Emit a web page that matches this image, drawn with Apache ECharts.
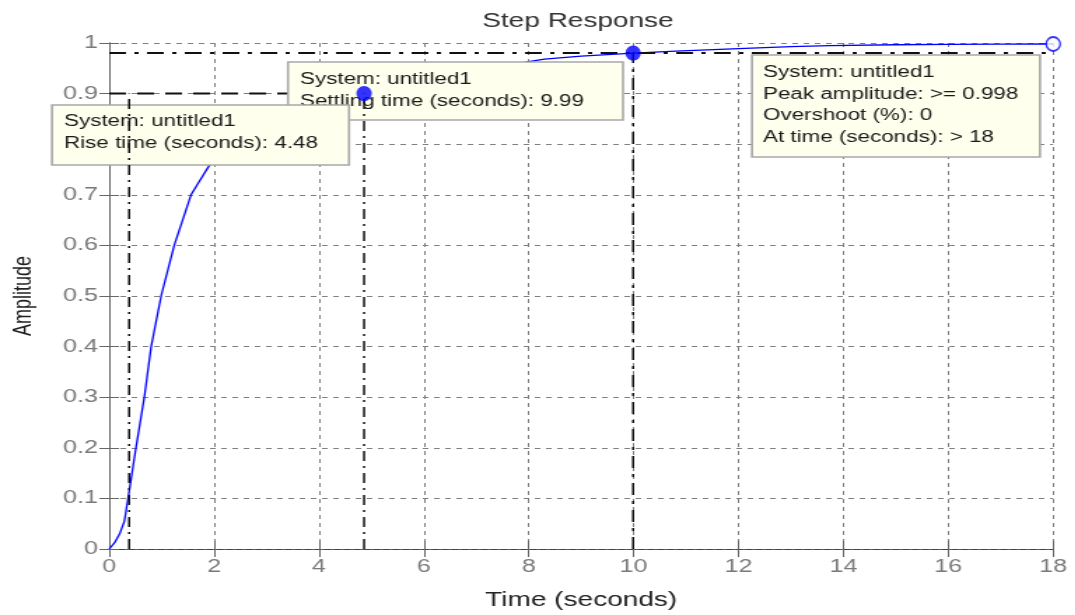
<!DOCTYPE html>
<html><head><meta charset="utf-8">
<script src="https://cdn.jsdelivr.net/npm/echarts@6/dist/echarts.min.js"></script>
<style>
html,body{margin:0;padding:0;background:#fff;overflow:hidden}
#wrap{width:1075px;height:615px;overflow:hidden;position:relative;background:#fff}
#chart{position:absolute;left:0;top:0;height:615px;transform-origin:0 0}
</style></head>
<body><div id="wrap"><div id="chart"></div></div>
<script>
// ---- data ----
const timeValues = [0, 0.1, 0.2, 0.29, 0.36, 0.51, 0.67, 0.8, 0.99, 1.24, 1.56, 1.98, 2.5, 3, 3.5, 4, 4.5, 4.86, 5.5, 6, 7, 8, 8.3, 9, 10, 10.8, 12, 13, 13.75, 15, 16, 17, 18];
const amplitudeValues = [0, 0.012, 0.03, 0.055, 0.1, 0.2, 0.3, 0.4, 0.5, 0.6, 0.7, 0.77, 0.81, 0.84, 0.86, 0.875, 0.89, 0.9, 0.913, 0.924, 0.945, 0.963, 0.968, 0.974, 0.98, 0.984, 0.989, 0.993, 0.995, 0.9965, 0.9972, 0.9977, 0.998];
const riseLevels = [0.1, 0.9];          // amplitude levels for rise time
const riseTimes = [0.38, 4.86];         // times at 10% and 90%
const settleTime = [9.99];
const settleLevel = [0.98];
const peakPoint = [18, 0.998];
const xTickLabels = ['0','2','4','6','8','10','12','14','16','18'];
const yTickLabels = ['0','0.1','0.2','0.3','0.4','0.5','0.6','0.7','0.8','0.9','1'];
const titleText = 'Step Response';
const xName = 'Time (seconds)';
const yName = 'Amplitude';
const riseBoxText = ['System: untitled1', 'Rise time (seconds): 4.48'];
const settleBoxText = ['System: untitled1', 'Settling time (seconds): 9.99'];
const peakBoxText = ['System: untitled1', 'Peak amplitude: >= 0.998', 'Overshoot (%): 0', 'At time (seconds): > 18'];

// ---- layout ----
const SX = 1.4; // the reference picture is horizontally stretched
const el = document.getElementById('chart');
el.style.width = (1075 / SX) + 'px';
el.style.transform = 'scaleX(' + SX + ')';
const px = v => v / SX;
const FONT = '"Liberation Sans", Arial, sans-serif';

const curve = timeValues.map((t, i) => [t, amplitudeValues[i]]);

function box(x, y, w, h, lines, tx, ty, z) {
  return {
    type: 'group', z: z,
    children: [
      { type: 'rect', z: z, shape: { x: px(x), y: y, width: px(w), height: h },
        style: { fill: '#ffffee', stroke: '#a8a8a8', lineWidth: 1.6 } },
      { type: 'text', z: z, style: { x: px(tx), y: ty, text: lines.join('\n'), font: '16px ' + FONT,
        fill: '#1a1a1a', lineHeight: 21.5, verticalAlign: 'top' } }
    ]
  };
}

const blackDashDot = [10, 5, 2, 5];
const chart = echarts.init(el, null, { renderer: 'canvas' });
const gridLine = { show: true, lineStyle: { color: '#808080', type: [4, 4], width: 1 } };
chart.setOption({
  animation: false,
  backgroundColor: '#fff',
  title: { text: titleText, left: px(578), top: 11, textAlign: 'center', padding: 0,
    textStyle: { fontFamily: FONT, fontSize: 20, fontWeight: 'normal', color: '#333' } },
  grid: { left: px(108), right: px(22), top: 43, bottom: 60, containLabel: false },
  xAxis: [
    { type: 'value', min: 0, max: 18, interval: 2, position: 'bottom',
      name: xName, nameLocation: 'middle', nameGap: 41,
      nameTextStyle: { fontFamily: FONT, fontSize: 20, color: '#222' },
      axisLine: { show: true, lineStyle: { color: '#666', width: 1 } },
      axisTick: { show: true, inside: true, length: 8, lineStyle: { color: '#666' } },
      axisLabel: { margin: 9, fontFamily: FONT, fontSize: 18, color: '#7a7a7a',
        formatter: (v, i) => xTickLabels[i] },
      splitLine: gridLine },
    { type: 'value', min: 0, max: 18, interval: 2, position: 'top',
      axisLine: { show: true, lineStyle: { color: '#444', width: 1, type: [4, 3] } },
      axisTick: { show: true, inside: true, length: 8, lineStyle: { color: '#666' } },
      axisLabel: { show: false }, splitLine: { show: false } }
  ],
  yAxis: [
    { type: 'value', min: 0, max: 1, interval: 0.1, position: 'left',
      name: yName, nameLocation: 'middle', nameGap: 52, nameRotate: 90,
      nameTextStyle: { fontFamily: FONT, fontSize: 18, color: '#222' },
      axisLine: { show: true, lineStyle: { color: '#666', width: 1 } },
      axisTick: { show: true, inside: true, length: 7, lineStyle: { color: '#666' } },
      axisLabel: { margin: 8, fontFamily: FONT, fontSize: 18, color: '#7a7a7a',
        formatter: (v, i) => yTickLabels[i] },
      splitLine: gridLine },
    { type: 'value', min: 0, max: 1, interval: 0.1, position: 'right',
      axisLine: { show: true, lineStyle: { color: '#666', width: 1 } },
      axisTick: { show: true, inside: true, length: 7, lineStyle: { color: '#666' } },
      axisLabel: { show: false }, splitLine: { show: false } }
  ],
  series: [
    { type: 'line', name: 'untitled1', data: curve, showSymbol: false, z: 2,
      lineStyle: { color: '#0000ff', width: 1.3 } },
    { type: 'line', data: [[0, riseLevels[1]], [riseTimes[1], riseLevels[1]]], showSymbol: false, z: 3,
      lineStyle: { color: '#111', width: 2, type: [12, 8] } },
    { type: 'line', data: [[0, settleLevel[0]], [18, settleLevel[0]]], showSymbol: false, z: 3,
      lineStyle: { color: '#111', width: 2, type: [12, 6, 3, 6] } },
    { type: 'line', data: [[riseTimes[0], 0], [riseTimes[0], riseLevels[1]]], showSymbol: false, z: 10,
      lineStyle: { color: '#111', width: 1.5, type: blackDashDot } },
    { type: 'line', data: [[riseTimes[1], 0], [riseTimes[1], riseLevels[1]]], showSymbol: false, z: 10,
      lineStyle: { color: '#111', width: 1.5, type: blackDashDot } },
    { type: 'line', data: [[settleTime[0], 0], [settleTime[0], settleLevel[0]]], showSymbol: false, z: 10,
      lineStyle: { color: '#111', width: 1.5, type: [12, 6, 3, 6] } },
    { type: 'scatter', data: [[riseTimes[1], riseLevels[1]], [settleTime[0], settleLevel[0]]], z: 11,
      symbol: 'circle', symbolSize: [11, 15], clip: false,
      itemStyle: { color: '#0000ff' } },
    { type: 'scatter', data: [peakPoint], z: 11, symbol: 'circle', symbolSize: [10, 14], clip: false,
      itemStyle: { color: '#fff', borderColor: '#0000ff', borderWidth: 1.5 } }
  ],
  graphic: [
    box(288, 62, 335, 58, settleBoxText, 300, 69, 5),
    box(52, 105, 297, 60, riseBoxText, 64, 111, 6),
    box(752, 55, 288, 102, peakBoxText, 763, 62, 5)
  ]
});
</script>
</body></html>
